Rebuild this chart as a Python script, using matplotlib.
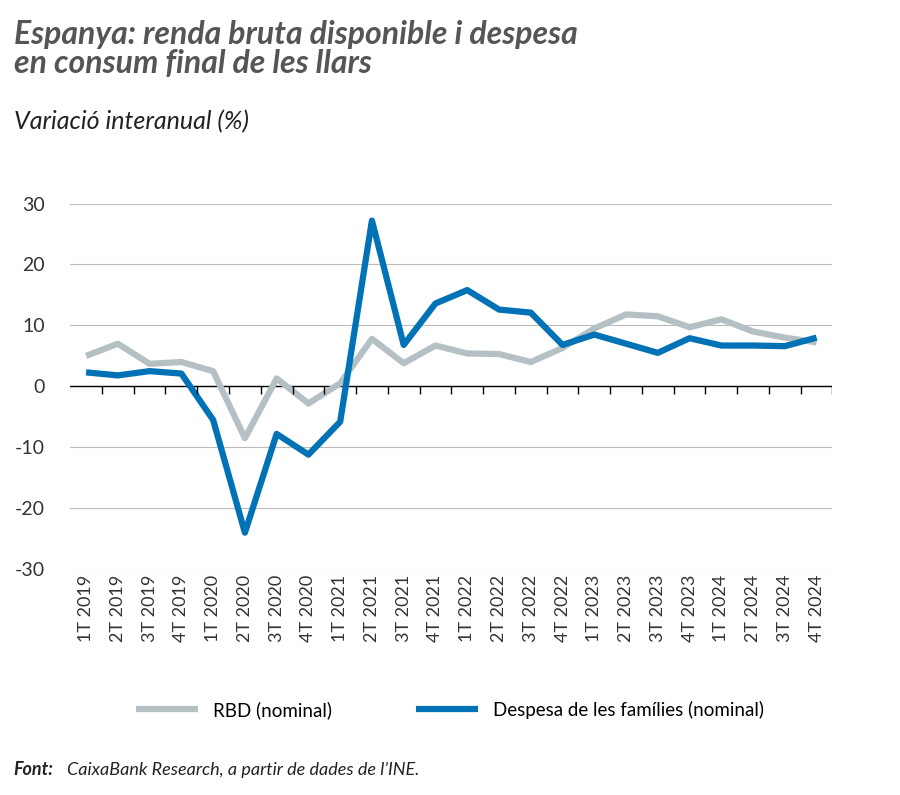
import numpy as np
import matplotlib
matplotlib.use('Agg')
import matplotlib.pyplot as plt

quarters = ['1T 2019', '2T 2019', '3T 2019', '4T 2019', '1T 2020', '2T 2020', '3T 2020', '4T 2020',
            '1T 2021', '2T 2021', '3T 2021', '4T 2021', '1T 2022', '2T 2022', '3T 2022', '4T 2022',
            '1T 2023', '2T 2023', '3T 2023', '4T 2023', '1T 2024', '2T 2024', '3T 2024', '4T 2024']
rbd = [5.0, 7.0, 3.7, 4.0, 2.5, -8.5, 1.3, -2.8, 0.5, 7.8, 3.8, 6.7,
       5.4, 5.3, 4.0, 6.3, 9.5, 11.8, 11.5, 9.7, 11.0, 9.0, 8.0, 7.2]
despesa = [2.3, 1.8, 2.5, 2.1, -5.5, -24.0, -7.8, -11.2, -5.8, 27.2, 6.8, 13.6,
           15.8, 12.6, 12.1, 6.8, 8.5, 7.0, 5.5, 7.9, 6.7, 6.7, 6.6, 8.0]
yticks = [30, 20, 10, 0, -10, -20, -30]

plt.rcParams['font.family'] = ['Lato', 'DejaVu Sans']
fig = plt.figure(figsize=(9, 7.95), dpi=100)
ax = fig.add_axes([0.078, 0.284, 0.847, 0.46])

x = np.arange(len(quarters))
ax.plot(x, rbd, color='#b5c0c5', lw=4.5, solid_capstyle='butt', label='RBD (nominal)')
ax.plot(x, despesa, color='#0072b5', lw=4.5, solid_capstyle='butt', label='Despesa de les famílies (nominal)')

ax.set_ylim(-30, 30)
ax.set_xlim(-0.5, len(quarters) - 0.5)
ax.set_yticks(yticks)
ax.set_yticklabels([str(v) for v in yticks], fontsize=14, color='#333333')
ax.yaxis.grid(True, color='#bbbbbb', lw=0.8)
ax.set_axisbelow(True)
ax.axhline(0, color='black', lw=1.0, zorder=1)
ax.vlines(x + 0.5, -1.2, 0, color='black', lw=1.0)
ax.tick_params(axis='y', length=0, pad=18)
ax.set_xticks(x)
ax.set_xticklabels(quarters, rotation=90, fontsize=13, color='#333333')
ax.tick_params(axis='x', length=0, pad=4)
for s in ax.spines.values():
    s.set_visible(False)

fig.legend(loc='center', bbox_to_anchor=(0.5, 0.107), ncol=2, frameon=False,
           fontsize=13.5, handlelength=3.3, columnspacing=4.5)

fig.text(0.015, 0.975, 'Espanya: renda bruta disponible i despesa\nen consum final de les llars',
         fontsize=23, fontweight='bold', style='italic', color='#555555', va='top', linespacing=1.0)
fig.text(0.015, 0.862, 'Variació interanual (%)', fontsize=18, style='italic', color='#222222', va='top')
t = fig.text(0.015, 0.025, 'Font:', fontsize=13, fontweight='bold', style='italic', color='#222222')
fig.text(0.074, 0.025, 'CaixaBank Research, a partir de dades de l’INE.',
         fontsize=13, style='italic', color='#222222')

fig.savefig('out.png', dpi=100)
